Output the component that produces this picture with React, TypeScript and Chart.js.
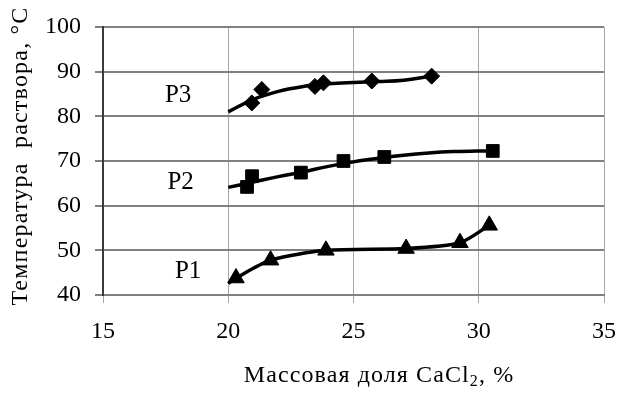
import React, { useEffect, useRef } from "react";
import { Chart, registerables } from "chart.js";

Chart.register(...registerables);

// Measured points (mass fraction CaCl2, %  ->  solution temperature, °C)
const p1X = [20.31, 21.69, 23.9, 27.1, 29.25, 30.42];
const p1Y = [43.8, 47.8, 50.0, 50.4, 51.7, 55.6];

const p2X = [20.75, 20.95, 22.9, 24.6, 26.23, 30.56];
const p2Y = [64.2, 66.6, 67.4, 70.0, 70.9, 72.25];

const p3X = [20.94, 21.34, 23.46, 23.8, 25.73, 28.12];
const p3Y = [83.0, 86.0, 86.7, 87.5, 87.9, 89.0];

// Smoothed approximating curves
const c1X = [20.0, 20.31, 21.69, 23.9, 27.1, 29.25, 30.42];
const c1Y = [42.6, 43.8, 47.8, 50.0, 50.4, 51.7, 55.6];

const c2X = [20, 21, 22, 23, 24, 25, 26, 27, 28, 29, 30.5];
const c2Y = [64.1, 65.3, 66.5, 67.6, 68.8, 69.8, 70.6, 71.3, 71.8, 72.1, 72.3];

const c3X = [20, 21, 22, 23, 24, 25, 26, 27, 28.1];
const c3Y = [81.0, 83.8, 85.6, 86.7, 87.3, 87.6, 87.8, 88.1, 89.0];

// Series captions and the data point each caption sits at
const seriesNames = ["P1", "P2", "P3"];
const captionX = [18.4, 18.1, 18.0];
const captionY = [45.2, 65.3, 84.7];

const xTicks = [15, 20, 25, 30, 35];
const yTicks = [40, 50, 60, 70, 80, 90, 100];

const xTitleMain = "Массовая доля CaCl";
const xTitleSub = "2";
const xTitleTail = ", %";
const yTitle = "Температура  раствора, °С";

const FONT = "'Liberation Serif', 'Times New Roman', serif";

const zip = (xs: number[], ys: number[]) => xs.map((x, i) => ({ x, y: ys[i] }));

const textPlugin = {
  id: "chartTexts",
  afterDraw(chart: any) {
    const { ctx, scales } = chart;
    const xs = scales.x;
    const ys = scales.y;
    ctx.save();
    ctx.fillStyle = "#000";

    // series captions
    ctx.font = `25px ${FONT}`;
    ctx.textAlign = "center";
    ctx.textBaseline = "middle";
    seriesNames.forEach((name, i) => {
      ctx.fillText(name, xs.getPixelForValue(captionX[i]), ys.getPixelForValue(captionY[i]));
    });

    // x-axis title with subscript
    const mainFont = `24px ${FONT}`;
    const subFont = `16px ${FONT}`;
    ctx.letterSpacing = "1.1px";
    ctx.textBaseline = "alphabetic";
    ctx.textAlign = "left";
    ctx.font = mainFont;
    const wMain = ctx.measureText(xTitleMain).width;
    const wTail = ctx.measureText(xTitleTail).width;
    ctx.font = subFont;
    const wSub = ctx.measureText(xTitleSub).width;
    const total = wMain + wSub + wTail;
    const cx = 379;
    const base = 382;
    let x0 = cx - total / 2;
    ctx.font = mainFont;
    ctx.fillText(xTitleMain, x0, base);
    x0 += wMain;
    ctx.font = subFont;
    ctx.fillText(xTitleSub, x0, base + 4);
    x0 += wSub;
    ctx.font = mainFont;
    ctx.fillText(xTitleTail, x0, base);

    // y-axis title
    ctx.letterSpacing = "1.2px";
    ctx.translate(21, 156);
    ctx.rotate(-Math.PI / 2);
    ctx.textAlign = "center";
    ctx.textBaseline = "middle";
    ctx.font = mainFont;
    ctx.fillText(yTitle, 0, 0);
    ctx.restore();
  },
};

export default function App() {
  const ref = useRef<HTMLCanvasElement | null>(null);

  useEffect(() => {
    if (!ref.current) return;
    const curve = (xs: number[], ys: number[], tension: number) => ({
      type: "line" as const,
      data: zip(xs, ys),
      borderColor: "#000",
      borderWidth: 3.5,
      pointRadius: 0,
      tension,
      fill: false,
      order: 2,
    });
    const marks = (xs: number[], ys: number[], style: string, r: number) => ({
      type: "scatter" as const,
      data: zip(xs, ys),
      showLine: false,
      pointStyle: style,
      pointRadius: r,
      pointBackgroundColor: "#000",
      pointBorderColor: "#000",
      pointBorderWidth: 1,
      order: 1,
    });

    const chart = new Chart(ref.current, {
      type: "scatter",
      data: {
        datasets: [
          curve(c1X, c1Y, 0.25),
          curve(c2X, c2Y, 0.4),
          curve(c3X, c3Y, 0.4),
          marks(p1X, p1Y, "triangle", 9.5),
          marks(p2X, p2Y, "rect", 9),
          marks(p3X, p3Y, "rectRot", 8),
        ] as any,
      },
      options: {
        responsive: false,
        animation: false,
        layout: { padding: { top: 27, right: 15, left: 0, bottom: 0 } },
        plugins: {
          legend: { display: false },
          tooltip: { enabled: false },
        },
        scales: {
          x: {
            type: "linear",
            min: 15,
            max: 35,
            afterBuildTicks: (s: any) => {
              s.ticks = xTicks.map((v) => ({ value: v }));
            },
            afterFit: (s: any) => {
              s.height = 101;
              s.paddingLeft = 0;
              s.paddingRight = 0;
            },
            ticks: {
              color: "#000",
              font: { family: FONT, size: 24 },
              padding: 14,
              maxRotation: 0,
            },
            grid: { color: "#a6a6a6", lineWidth: 1, tickLength: 8 },
            border: { color: "#808080", width: 2 },
          },
          y: {
            type: "linear",
            min: 40,
            max: 100,
            afterBuildTicks: (s: any) => {
              s.ticks = yTicks.map((v) => ({ value: v }));
            },
            afterFit: (s: any) => {
              s.width = 103;
              s.paddingTop = 0;
              s.paddingBottom = 0;
            },
            ticks: {
              color: "#000",
              font: { family: FONT, size: 24 },
              padding: 14,
            },
            grid: { color: "#808080", lineWidth: 2, tickLength: 8 },
            border: { color: "#3a3a3a", width: 2 },
          },
        },
      },
      plugins: [textPlugin],
    } as any);
    return () => chart.destroy();
  }, []);

  return (
    <div style={{ position: "absolute", left: 0, top: 0, width: 619, height: 396, background: "#fff" }}>
      <canvas ref={ref} width={619} height={396} />
    </div>
  );
}
